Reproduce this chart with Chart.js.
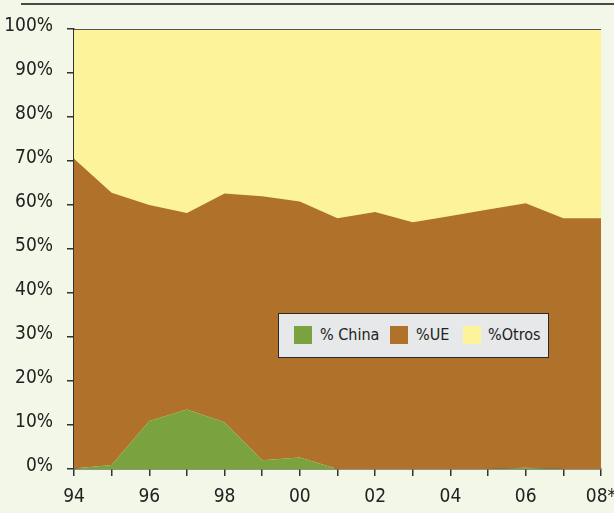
<!DOCTYPE html>
<html>
<head>
<meta charset="utf-8">
<script src="https://cdn.jsdelivr.net/npm/chart.js@4.4.1/dist/chart.umd.min.js"></script>
<style>
  html, body { margin: 0; padding: 0; background: #F3F7E7; }
  #wrap { position: relative; width: 614px; height: 513px; background: #F3F7E7; }
  #topline { position: absolute; left: 21px; top: 3px; width: 593px; height: 0; border-top: 2px solid #4a4a4a; }
  #legend { position: absolute; left: 278px; top: 313px; width: 269px; height: 43px;
    background: #E6E8E9; border: 1.5px solid #2a2a2a; font-family: "DejaVu Sans Condensed", "Liberation Sans", sans-serif;
    font-size: 16px; color: #222; }
  .sw { position: absolute; top: 12px; width: 18px; height: 18px; }
  .lt { position: absolute; top: 11px; line-height: 20px; white-space: nowrap; }
</style>
</head>
<body>
<div id="wrap">
  <canvas id="c" width="614" height="513"></canvas>
  <div id="topline"></div>
  <div id="legend"></div>
</div>
<script>
const categories = ['94','95','96','97','98','99','00','01','02','03','04','05','06','07','08*'];
const chinaValues = [0.1, 0.9, 10.9, 13.5, 10.6, 2.0, 2.6, 0, 0, 0, 0, 0, 0.3, 0, 0];
const ueValues    = [70.4, 61.9, 49.1, 44.7, 52.0, 60.0, 58.2, 57.0, 58.4, 56.1, 57.5, 59.0, 60.1, 57.0, 57.0];
const otrosValues = [29.5, 37.2, 40.0, 41.8, 37.4, 38.0, 39.2, 43.0, 41.6, 43.9, 42.5, 41.0, 39.6, 43.0, 43.0];
const seriesNames = ['% China', '%UE', '%Otros'];
const seriesColors = ['#7AA340', '#B0712B', '#FCF39A'];
const yTicks = [0,10,20,30,40,50,60,70,80,90,100];

const FONT = '"DejaVu Sans Condensed", "Liberation Sans", sans-serif';
const allSeries = [chinaValues, ueValues, otrosValues];

const datasets = allSeries.map((vals, i) => ({
  label: seriesNames[i],
  data: vals,
  backgroundColor: seriesColors[i],
  borderColor: seriesColors[i],
  borderWidth: 0,
  pointRadius: 0,
  tension: 0,
  fill: i === 0 ? 'origin' : '-1'
}));

new Chart(document.getElementById('c'), {
  type: 'line',
  data: { labels: categories, datasets },
  options: {
    responsive: false,
    animation: false,
    layout: { padding: { top: 29, right: 13, left: 0, bottom: 0 } },
    plugins: { legend: { display: false }, tooltip: { enabled: false } },
    scales: {
      x: {
        offset: false,
        grid: { drawOnChartArea: false, drawTicks: true, tickLength: 7, color: '#333', lineWidth: 1.5 },
        border: { display: true, color: '#333', width: 1.5 },
        ticks: {
          autoSkip: false, maxRotation: 0, color: '#222', padding: 10,
          font: { family: FONT, size: 19 },
          callback: function(v, i) { return i % 2 === 0 ? categories[i] : ''; }
        },
        afterFit: s => { s.height = 44; s.paddingRight = 0; s.paddingLeft = 0; }
      },
      y: {
        stacked: true, min: 0, max: 100,
        afterBuildTicks: s => { s.ticks = yTicks.map(v => ({ value: v })); },
        grid: { drawOnChartArea: false, drawTicks: true, tickLength: 7, color: '#333', lineWidth: 1.5 },
        border: { display: true, color: '#333', width: 1.5 },
        ticks: { color: '#222', padding: 14, labelOffset: -3, font: { family: FONT, size: 19 }, callback: v => v + '%' },
        afterFit: s => { s.width = 74; s.paddingTop = 0; s.paddingBottom = 0; }
      }
    }
  },
  plugins: [{
    id: 'topBorder',
    afterDraw(chart) {
      const { ctx, chartArea } = chart;
      ctx.save();
      ctx.strokeStyle = '#555';
      ctx.lineWidth = 1.2;
      ctx.beginPath();
      ctx.moveTo(chartArea.left, chartArea.top + 0.5);
      ctx.lineTo(chartArea.right, chartArea.top + 0.5);
      ctx.stroke();
      ctx.restore();
    }
  }]
});

const leg = document.getElementById('legend');
const swX = [15, 111, 184];
const txX = [41, 137, 209];
seriesNames.forEach((n, i) => {
  const s = document.createElement('div');
  s.className = 'sw'; s.style.left = swX[i] + 'px'; s.style.background = seriesColors[i];
  leg.appendChild(s);
  const t = document.createElement('div');
  t.className = 'lt'; t.style.left = txX[i] + 'px'; t.textContent = n;
  leg.appendChild(t);
});
</script>
</body>
</html>
